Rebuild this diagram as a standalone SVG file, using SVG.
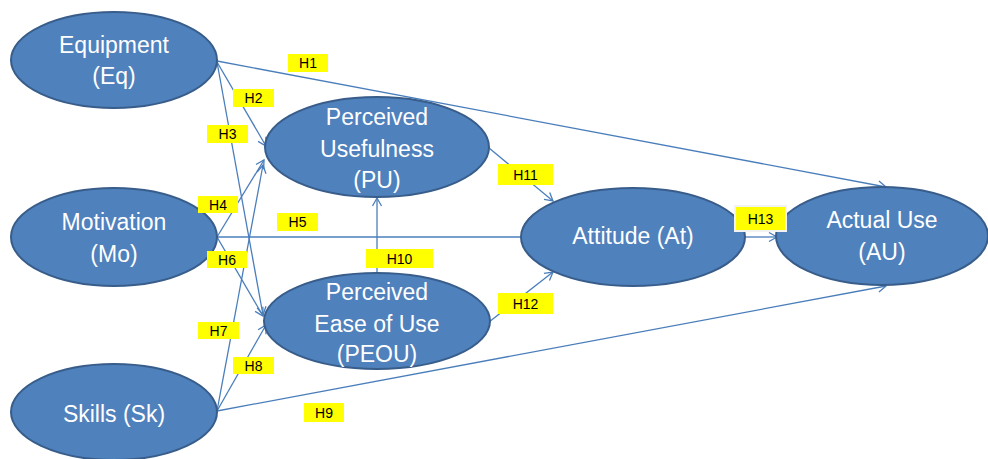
<svg xmlns="http://www.w3.org/2000/svg" width="988" height="459" viewBox="0 0 988 459">
<defs>
<marker id="arr" markerUnits="userSpaceOnUse" markerWidth="14" markerHeight="14" viewBox="-10 -7 12 14" refX="0" refY="0" orient="auto">
<path d="M-8,-4.5 L0,0 L-8,4.5" fill="none" stroke="#4A7EBB" stroke-width="1.3"/>
</marker>
</defs>
<style>
.node ellipse{fill:#4F81BD;stroke:#385D8A;stroke-width:2}
.node text{font-family:"Liberation Sans",Arial,sans-serif;font-size:23px;fill:#FFFFFF;text-anchor:middle}
.conn line{stroke:#4A7EBB;stroke-width:1.3;fill:none}
.lbl rect{fill:#FFFF00}
.lbl text{font-family:"Liberation Sans",Arial,sans-serif;font-size:14px;fill:#000000;text-anchor:middle}
</style>
<rect width="988" height="459" fill="#FFFFFF"/>
<g id="connectors" class="conn">
<line x1="217" y1="61" x2="886" y2="187" marker-end="url(#arr)"/>
<line x1="217" y1="62" x2="266" y2="146" marker-end="url(#arr)"/>
<line x1="217" y1="62" x2="263" y2="315" marker-end="url(#arr)"/>
<line x1="217" y1="237" x2="264" y2="160" marker-end="url(#arr)"/>
<line x1="217" y1="237" x2="521" y2="237"/>
<line x1="217" y1="237" x2="263" y2="316" marker-end="url(#arr)"/>
<line x1="217" y1="411" x2="263" y2="165" marker-end="url(#arr)"/>
<line x1="217" y1="411" x2="266" y2="325" marker-end="url(#arr)"/>
<line x1="217" y1="411" x2="886" y2="286" marker-end="url(#arr)"/>
<line x1="377" y1="273" x2="377" y2="198" marker-end="url(#arr)"/>
<line x1="489" y1="148" x2="553" y2="201" marker-end="url(#arr)"/>
<line x1="489" y1="322" x2="553" y2="272" marker-end="url(#arr)"/>
<line x1="745" y1="237" x2="777" y2="237" marker-end="url(#arr)"/>
</g>
<g id="Eq" class="node"><ellipse cx="114" cy="60" rx="103" ry="48"/><text x="114" y="53">Equipment</text><text x="114" y="84">(Eq)</text></g>
<g id="Mo" class="node"><ellipse cx="114" cy="237" rx="103" ry="49"/><text x="114" y="230">Motivation</text><text x="114" y="262">(Mo)</text></g>
<g id="Sk" class="node"><ellipse cx="114" cy="412" rx="103" ry="48"/><text x="114" y="422">Skills (Sk)</text></g>
<g id="PU" class="node"><ellipse cx="377" cy="147" rx="112" ry="50"/><text x="377" y="125">Perceived</text><text x="377" y="157">Usefulness</text><text x="377" y="188">(PU)</text></g>
<g id="PEOU" class="node"><ellipse cx="377" cy="321" rx="113" ry="48"/><text x="377" y="300">Perceived</text><text x="377" y="332">Ease of Use</text><text x="377" y="362">(PEOU)</text></g>
<g id="At" class="node"><ellipse cx="633" cy="237" rx="112" ry="49"/><text x="633" y="244">Attitude (At)</text></g>
<g id="AU" class="node"><ellipse cx="882" cy="236" rx="106" ry="49"/><text x="882" y="228">Actual Use</text><text x="882" y="260">(AU)</text></g>
<g id="labels" class="lbl">
<rect x="288" y="54" width="40" height="18"/><text x="308" y="68">H1</text>
<rect x="233" y="89" width="41" height="18"/><text x="253.5" y="103">H2</text>
<rect x="207" y="125" width="41" height="18"/><text x="227.5" y="139">H3</text>
<rect x="198" y="196" width="40" height="17"/><text x="218" y="209.5">H4</text>
<rect x="277" y="213" width="41" height="18"/><text x="297.5" y="227">H5</text>
<rect x="207" y="251" width="40" height="17"/><text x="227" y="264.5">H6</text>
<rect x="198" y="322" width="41" height="17"/><text x="218.5" y="335.5">H7</text>
<rect x="233" y="357" width="41" height="17"/><text x="253.5" y="370.5">H8</text>
<rect x="304" y="403" width="40" height="19"/><text x="324" y="417.5">H9</text>
<rect x="366" y="249" width="67" height="19"/><text x="399.5" y="263.5">H10</text>
<rect x="498" y="164" width="55" height="21"/><text x="525.5" y="179.5">H11</text>
<rect x="498" y="293" width="55" height="21"/><text x="525.5" y="308.5">H12</text>
<rect x="735" y="206" width="51" height="25" stroke="#F2F2F2" stroke-width="2"/><text x="760.5" y="223.5">H13</text>
</g>
</svg>
